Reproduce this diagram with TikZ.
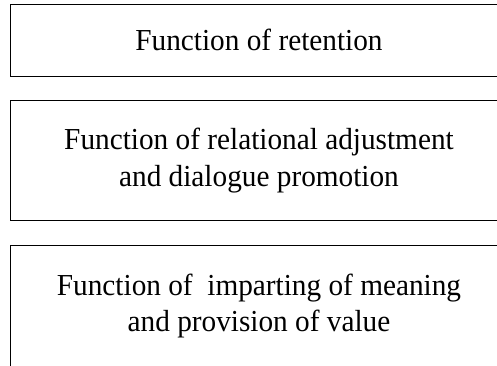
\documentclass[tikz,border=0pt]{standalone}
\usepackage{fontspec}
\setmainfont[FakeStretch=0.96]{Liberation Serif}
\begin{document}
\begin{tikzpicture}[x=1pt, y=1pt,
    funcbox/.style={draw, line width=0.8pt, minimum width=498pt, align=center,
      font=\fontsize{30.5}{36.5}\selectfont, inner sep=0pt}]
    \useasboundingbox (0, 0) rectangle (497, -365);
    \clip (0, 0) rectangle (497, -365);

    \node [funcbox, minimum height=72pt] (retention) at (259, -40) {Function of retention};
    \node [funcbox, minimum height=120pt] (relation) at (259, -160.5)
      {Function of relational adjustment\\and dialogue promotion};
    \node [funcbox, minimum height=122pt] (meaning) at (259, -306)
      {Function of\ \ imparting of meaning\\and provision of value};
  \end{tikzpicture}
\end{document}
